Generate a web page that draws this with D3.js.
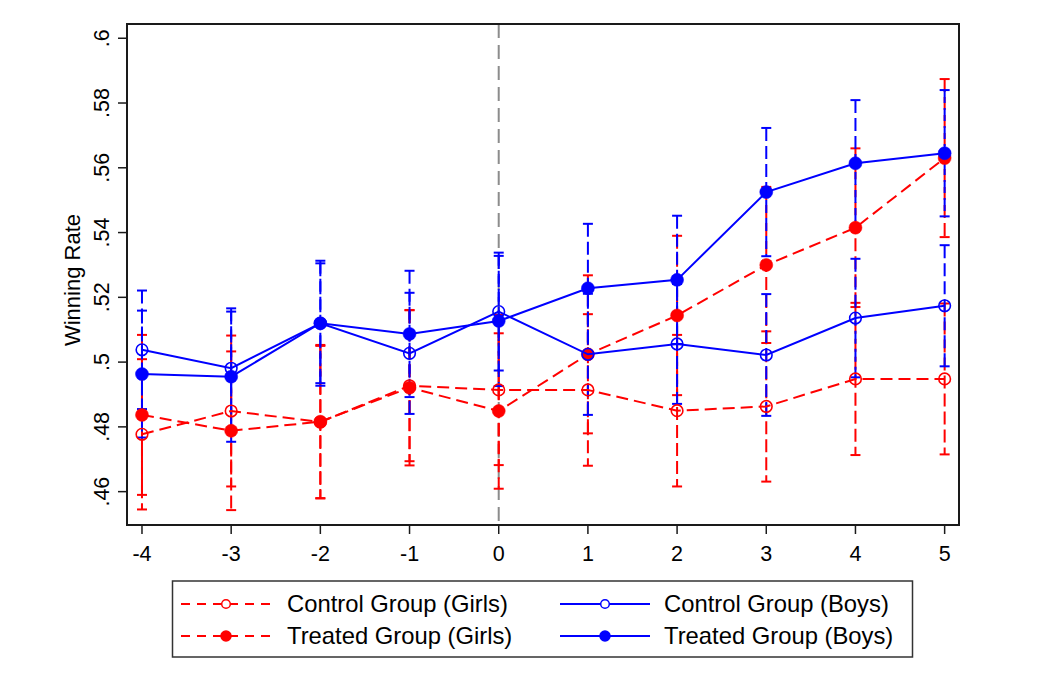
<!DOCTYPE html>
<html>
<head>
<meta charset="utf-8">
<script src="https://cdn.jsdelivr.net/npm/d3@7"></script>
<style>
  html, body { margin: 0; padding: 0; background: #fff; }
  svg { display: block; font-family: "Liberation Sans", Arial, Helvetica, sans-serif; }
</style>
</head>
<body>
<svg id="chart" width="1045" height="693"></svg>
<script>
// ---- data ----
const periods = [-4, -3, -2, -1, 0, 1, 2, 3, 4, 5];
const yTicks = [0.46, 0.48, 0.5, 0.52, 0.54, 0.56, 0.58, 0.6];
const yTickLabels = [".46", ".48", ".5", ".52", ".54", ".56", ".58", ".6"];

const controlGirls   = [0.4777, 0.4849, 0.4815, 0.4927, 0.4914, 0.4914, 0.4850, 0.4863, 0.4948, 0.4948];
const controlGirlsCI = [0.0232, 0.0233, 0.0235, 0.0233, 0.0232, 0.0234, 0.0234, 0.0232, 0.0235, 0.0233];
const treatedGirls   = [0.4837, 0.4788, 0.4816, 0.4921, 0.4849, 0.5024, 0.5144, 0.5300, 0.5415, 0.5630];
const treatedGirlsCI = [0.0247, 0.0245, 0.0237, 0.0240, 0.0240, 0.0244, 0.0246, 0.0241, 0.0245, 0.0244];
const controlBoys    = [0.5038, 0.4981, 0.5120, 0.5027, 0.5156, 0.5024, 0.5056, 0.5022, 0.5136, 0.5174];
const controlBoysCI  = [0.0183, 0.0185, 0.0185, 0.0187, 0.0182, 0.0187, 0.0185, 0.0188, 0.0183, 0.0187];
const treatedBoys    = [0.4963, 0.4955, 0.5120, 0.5087, 0.5127, 0.5228, 0.5254, 0.5525, 0.5614, 0.5645];
const treatedBoysCI  = [0.0196, 0.0201, 0.0193, 0.0195, 0.0201, 0.0199, 0.0198, 0.0198, 0.0195, 0.0195];

const seriesNames = ["Control Group (Girls)", "Treated Group (Girls)", "Control Group (Boys)", "Treated Group (Boys)"];

const series = [
  { name: seriesNames[0], values: controlGirls, ci: controlGirlsCI, color: "#ff0000", filled: false, dashed: true },
  { name: seriesNames[1], values: treatedGirls, ci: treatedGirlsCI, color: "#ff0000", filled: true,  dashed: true },
  { name: seriesNames[2], values: controlBoys,  ci: controlBoysCI,  color: "#0000ff", filled: false, dashed: false },
  { name: seriesNames[3], values: treatedBoys,  ci: treatedBoysCI,  color: "#0000ff", filled: true,  dashed: false }
];

// ---- layout ----
const svg = d3.select("#chart");
const plot = { left: 127, right: 959, top: 24, bottom: 525 };

const x = d3.scaleLinear().domain([-4.168, 5.161]).range([plot.left, plot.right]);
const y = d3.scaleLinear().domain([0.4497, 0.6044]).range([plot.bottom, plot.top]);

// reference line at 0
svg.append("line")
  .attr("x1", x(0)).attr("x2", x(0))
  .attr("y1", plot.top).attr("y2", plot.bottom)
  .attr("stroke", "#8c8c8c").attr("stroke-width", 2)
  .attr("stroke-dasharray", "14,7");

// error bars
const capW = 5;
series.forEach(s => {
  const g = svg.append("g");
  periods.forEach((p, i) => {
    const lo = s.values[i] - s.ci[i], hi = s.values[i] + s.ci[i];
    g.append("line")
      .attr("x1", x(p)).attr("x2", x(p))
      .attr("y1", y(hi)).attr("y2", y(lo))
      .attr("stroke", s.color).attr("stroke-width", 2)
      .attr("stroke-dasharray", "13,5");
    [lo, hi].forEach(v => {
      g.append("line")
        .attr("x1", x(p) - capW).attr("x2", x(p) + capW)
        .attr("y1", y(v)).attr("y2", y(v))
        .attr("stroke", s.color).attr("stroke-width", 2);
    });
  });
});

// connected lines + markers
const line = d3.line().x((d, i) => x(periods[i])).y(d => y(d));
series.forEach(s => {
  svg.append("path")
    .datum(s.values)
    .attr("d", line)
    .attr("fill", "none")
    .attr("stroke", s.color)
    .attr("stroke-width", 2)
    .attr("stroke-dasharray", s.dashed ? "12,6" : null);
  svg.append("g").selectAll("circle")
    .data(s.values)
    .join("circle")
    .attr("cx", (d, i) => x(periods[i]))
    .attr("cy", d => y(d))
    .attr("r", s.filled ? 6.5 : 5.8)
    .attr("fill", s.filled ? s.color : "none")
    .attr("stroke", s.color)
    .attr("stroke-width", s.filled ? 0.5 : 1.6);
});

// frame
svg.append("rect")
  .attr("x", plot.left).attr("y", plot.top)
  .attr("width", plot.right - plot.left).attr("height", plot.bottom - plot.top)
  .attr("fill", "none").attr("stroke", "#1a1a1a").attr("stroke-width", 2);

// x axis
const xAxis = svg.append("g");
periods.forEach(p => {
  xAxis.append("line")
    .attr("x1", x(p)).attr("x2", x(p))
    .attr("y1", plot.bottom).attr("y2", plot.bottom + 9)
    .attr("stroke", "#1a1a1a").attr("stroke-width", 1.5);
  xAxis.append("text")
    .attr("x", x(p)).attr("y", 561)
    .attr("text-anchor", "middle")
    .attr("font-size", 21.5)
    .text(d3.format("d")(p).replace("−", "-"));
});

// y axis
const yAxis = svg.append("g");
yTicks.forEach((t, i) => {
  yAxis.append("line")
    .attr("x1", plot.left - 9).attr("x2", plot.left)
    .attr("y1", y(t)).attr("y2", y(t))
    .attr("stroke", "#1a1a1a").attr("stroke-width", 1.5);
  yAxis.append("text")
    .attr("transform", `translate(109,${y(t)}) rotate(-90)`)
    .attr("text-anchor", "middle")
    .attr("font-size", 21.5)
    .text(yTickLabels[i]);
});
svg.append("text")
  .attr("transform", `translate(80,280) rotate(-90)`)
  .attr("text-anchor", "middle")
  .attr("font-size", 22)
  .text("Winning Rate");

// legend
const leg = svg.append("g");
leg.append("rect")
  .attr("x", 172.5).attr("y", 581)
  .attr("width", 740).attr("height", 76)
  .attr("fill", "#fff").attr("stroke", "#333").attr("stroke-width", 1.5);
const legPos = [
  { sx: 181, ex: 271, tx: 287, ty: 604 },
  { sx: 181, ex: 271, tx: 287, ty: 636 },
  { sx: 560, ex: 650, tx: 664, ty: 604 },
  { sx: 560, ex: 650, tx: 664, ty: 636 }
];
series.forEach((s, i) => {
  const lp = legPos[i];
  leg.append("line")
    .attr("x1", lp.sx).attr("x2", lp.ex)
    .attr("y1", lp.ty).attr("y2", lp.ty)
    .attr("stroke", s.color).attr("stroke-width", 2)
    .attr("stroke-dasharray", s.dashed ? "9,7" : null);
  leg.append("circle")
    .attr("cx", (lp.sx + lp.ex) / 2).attr("cy", lp.ty)
    .attr("r", s.filled ? 5 : 4.3)
    .attr("fill", s.filled ? s.color : "#fff")
    .attr("stroke", s.color).attr("stroke-width", 1.5);
  leg.append("text")
    .attr("x", lp.tx).attr("y", lp.ty)
    .attr("dy", "0.35em")
    .attr("font-size", 23.8)
    .text(s.name);
});
</script>
</body>
</html>
